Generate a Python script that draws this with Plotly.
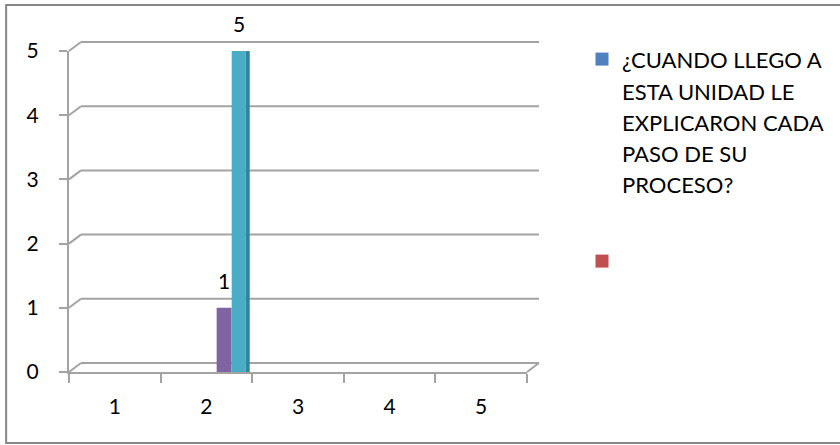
import plotly.graph_objects as go

# ---------------- data ----------------
categories = [1, 2, 3, 4, 5]
category_labels = ["1", "2", "3", "4", "5"]
y_ticks = [0, 1, 2, 3, 4, 5]

legend_lines = ["¿CUANDO LLEGO A", "ESTA UNIDAD LE", "EXPLICARON CADA", "PASO DE SU", "PROCESO?"]
blue_values = [None, None, None, None, None]
red_values = [None, None, None, None, None]
purple_values = [None, 1, None, None, None]
cyan_values = [None, 5, None, None, None]

# ---------------- geometry (pixels) ----------------
W, H = 840, 445
PL, PR, PT, PB = 69, 528, 51, 372          # front plane of the plot
DX, DY = 12, 9                              # 3-D depth offset of back wall
pw, ph = PR - PL, PB - PT

def px_x(px):
    return (px - PL) / pw

def px_y(py):
    return (PB - py) / ph

GRID = "#a3a3a3"
FONT = "Lato"

fig = go.Figure()

# legend-only series (Excel's first two series)
name_blue = "<br>".join(f"<span style='font-size:22px'>{t}</span>" for t in legend_lines)
fig.add_trace(go.Scatter(x=categories, y=blue_values, name=name_blue, mode="markers",
                         marker=dict(symbol="square", size=13, color="#4f81bd"),
                         legendgroup="a", showlegend=True))
fig.add_trace(go.Scatter(x=categories, y=red_values, name=" ", mode="markers",
                         marker=dict(symbol="square", size=13, color="#c0504d"),
                         legendgroup="b", showlegend=True))

# visible bars
purple_off, purple_w = 0.112, 0.163
cyan_off, cyan_w = 0.276, 0.153
side_off, side_w = 0.429, 0.044
fig.add_trace(go.Bar(x=categories, y=purple_values, offset=purple_off, width=purple_w,
                     marker=dict(color="#8064a2", line_width=0), showlegend=False))
fig.add_trace(go.Bar(x=categories, y=cyan_values, offset=cyan_off, width=cyan_w,
                     marker=dict(color="#4bacc6", line_width=0), showlegend=False))
fig.add_trace(go.Bar(x=categories, y=cyan_values, offset=side_off, width=side_w,
                     marker=dict(color="#31849b", line_width=0), showlegend=False,
                     hoverinfo="skip"))

# data labels
annotations = []
for vals, off, w in [(purple_values, purple_off, purple_w), (cyan_values, cyan_off, cyan_w)]:
    for c, v in zip(categories, vals):
        if v is not None:
            annotations.append(dict(x=c + off + w / 2, y=v, xref="x", yref="y", text=str(v),
                                    showarrow=False, yanchor="bottom", yshift=13,
                                    font=dict(family=FONT, size=21, color="#000")))

# 3-D gridlines / floor / border
shapes = []
ddx, ddy = DX / pw, DY / ph
for v in y_ticks:
    yy = v / max(y_ticks)
    shapes.append(dict(type="line", xref="paper", yref="paper", x0=0, y0=yy, x1=ddx, y1=yy + ddy,
                       line=dict(color=GRID, width=2), layer="below"))
    shapes.append(dict(type="line", xref="paper", yref="paper", x0=ddx, y0=yy + ddy, x1=1 + ddx,
                       y1=yy + ddy, line=dict(color=GRID, width=2), layer="below"))
shapes.append(dict(type="line", xref="paper", yref="paper", x0=1, y0=0, x1=1 + ddx, y1=ddy,
                   line=dict(color=GRID, width=2), layer="below"))
shapes.append(dict(type="rect", xref="paper", yref="paper", x0=px_x(6), y0=px_y(443),
                   x1=px_x(850), y1=px_y(5), line=dict(color="#868686", width=2),
                   fillcolor="rgba(0,0,0,0)", layer="below"))

fig.update_layout(
    width=W, height=H,
    margin=dict(l=PL, r=W - PR, t=PT, b=H - PB, pad=0),
    paper_bgcolor="white", plot_bgcolor="white",
    barmode="overlay",
    font=dict(family=FONT, size=21, color="#000"),
    showlegend=True,
    legend=dict(x=px_x(582), y=px_y(37), xanchor="left", yanchor="top",
                font=dict(family=FONT, size=24, color="#000"),
                traceorder="grouped", tracegroupgap=43, valign="top",
                maxheight=420,
                bgcolor="rgba(0,0,0,0)", itemclick=False),
    shapes=shapes,
    annotations=annotations,
)
fig.update_xaxes(range=[0.5, 5.5], tickvals=categories, ticktext=category_labels,
                 ticks="", showgrid=False, zeroline=False,
                 showline=True, linecolor=GRID, linewidth=2,
                 ticklabelstandoff=15,
                 minor=dict(tick0=0.5, dtick=1, ticks="outside", ticklen=9,
                            tickcolor=GRID, tickwidth=2, showgrid=False),
                 tickfont=dict(family=FONT, size=21))
fig.update_yaxes(range=[0, 5], tickvals=y_ticks, ticks="outside", ticklen=8,
                 tickcolor=GRID, tickwidth=2, showgrid=False, zeroline=False,
                 showline=True, linecolor=GRID, linewidth=2,
                 ticklabelstandoff=16, tickfont=dict(family=FONT, size=21))

fig.write_html("out.html", config={"displayModeBar": False},
               post_script="document.body.style.margin='0px';")
